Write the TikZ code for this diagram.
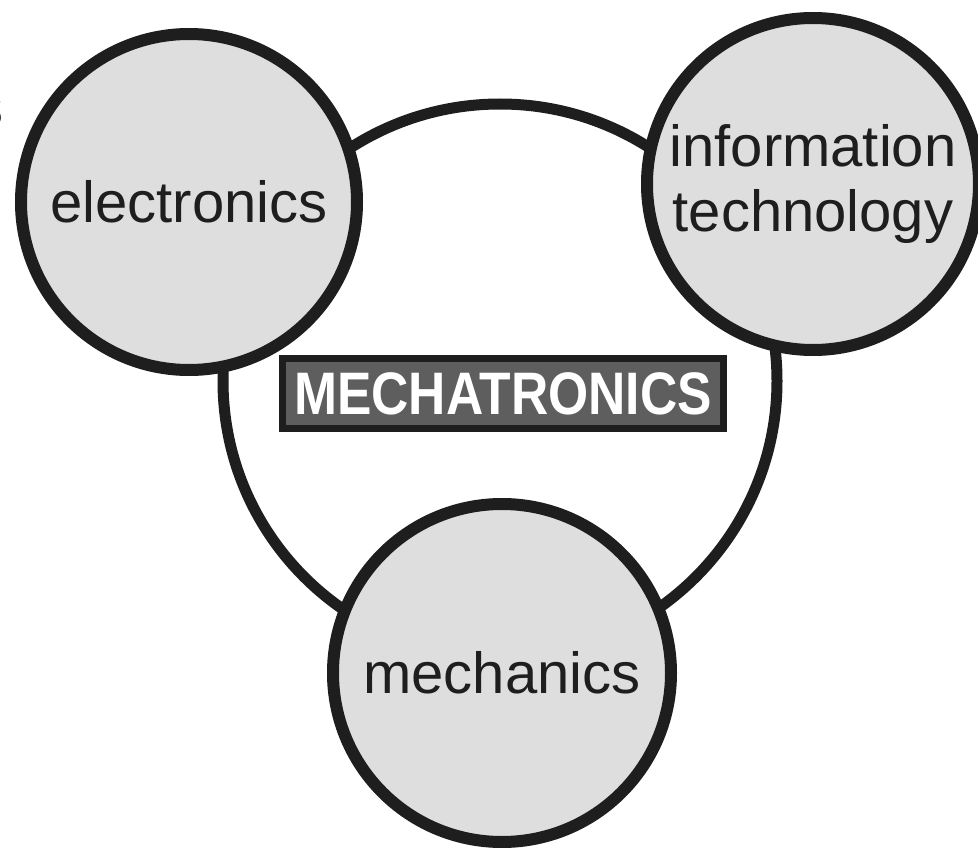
\documentclass[tikz,border=0pt]{standalone}
\usepackage{fontspec}
\setmainfont{Liberation Sans}
\definecolor{ink}{HTML}{1E1E1E}
\definecolor{discfill}{HTML}{DEDEDE}
\definecolor{labelfill}{HTML}{5E5E5E}
\begin{document}
\begin{tikzpicture}[x=1pt,y=-1pt,
  disc/.style={circle, draw=ink, fill=discfill, line width=12pt, inner sep=0pt,
    minimum size=#1, align=center, font=\fontsize{58}{65}\selectfont, text=ink},
  hoop/.style={circle, draw=ink, line width=11pt, inner sep=0pt, minimum size=#1},
  banner/.style={draw=ink, fill=labelfill, line width=7pt, inner sep=0pt,
    minimum width=441pt, minimum height=70pt, text=white,
    font=\fontsize{60}{60}\selectfont\bfseries}
]
\useasboundingbox (0,0) rectangle (978,848);
\fill[white] (0,0) rectangle (978,848);

% ring that links the three fields
\node[hoop=554pt] (ring) at (500,381) {};

% the three fields
\node[disc=336pt] (elec) at (189,202) {electronics};
\node[disc=332pt] (info) at (813,184) {information\\technology};
\node[disc=338pt] (mech) at (502,673) {mechanics};

% central label
\node[banner] (mecha) at (503,393.5) {\scalebox{0.86}[1]{MECHATRONICS}};

% stray letter at the left edge
\node[anchor=base east, inner sep=0pt, text=ink, font=\fontsize{58}{65}\selectfont] (stray) at (4,127) {s};
\end{tikzpicture}
\end{document}
